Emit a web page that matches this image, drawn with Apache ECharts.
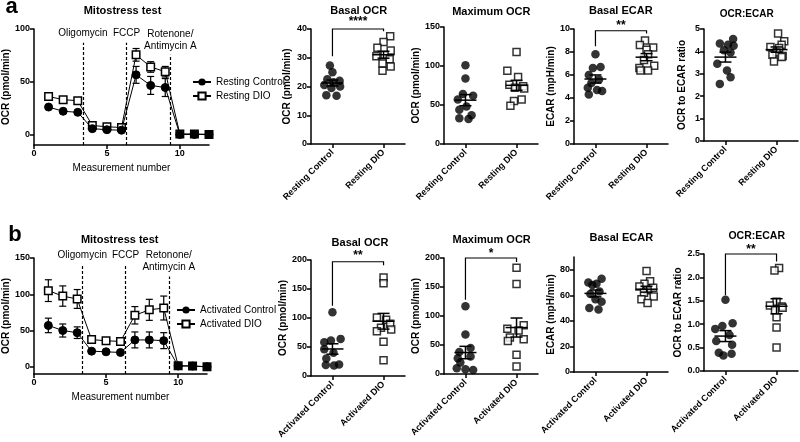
<!DOCTYPE html>
<html><head><meta charset="utf-8">
<script src="https://cdn.jsdelivr.net/npm/echarts@6/dist/echarts.min.js"></script>
<style>html,body{margin:0;padding:0;background:#fff}#c{width:800px;height:442px}</style>
</head><body><div id="c"></div>
<script>
// ---------------- DATA ----------------
const measurement = [1, 2, 3, 4, 5, 6, 7, 8, 9, 10, 11, 12];
const restingControlOCR = [26, 22, 21, 5.5, 4.5, 4, 56.5, 46.5, 44.5, 0, 0, 0];
const restingControlSEM = [1.5, 1, 1, 1, 0.8, 0.8, 8, 8.5, 8.5, 0.5, 0.5, 0.5];
const restingDIOOCR = [36, 33, 32, 8.5, 7.3, 6.6, 75.5, 64, 59.5, 0.5, 0.5, 0];
const restingDIOSEM = [2, 2, 2, 1.5, 1, 1, 6, 5, 5, 0.5, 0.5, 0.5];
const activatedControlOCR = [57, 50, 47, 21.5, 20.6, 19.7, 37, 37, 36, 1, 1, 0];
const activatedControlSEM = [10, 9, 8, 1.5, 1.5, 1.5, 11, 11, 11, 1, 1, 1];
const activatedDIOOCR = [105, 97.5, 93.5, 37.5, 35.8, 35, 71, 78.5, 81, 1.5, 1, 0];
const activatedDIOSEM = [15, 14, 13, 2, 2, 2, 12, 14.5, 16.5, 1, 1, 1];

const injectionX = [3.35, 6.35, 9.35];
const injectionLabelsA = ['Oligomycin', 'FCCP', 'Rotenone/\nAntimycin A'];
const injectionLabelsB = ['Oligomycin', 'FCCP', 'Retonone/\nAntimycin A'];
const injectionTopA = [87, 87, 75.5];
const injectionTopB = [141, 141, 124.5];

const restingGroups = ['Resting Control', 'Resting DIO'];
const activatedGroups = ['Activated Control', 'Activated DIO'];
const lineSeriesNamesA = ['Resting Control', 'Resting DIO'];
const lineSeriesNamesB = ['Activated Control', 'Activated DIO'];

// Resting scatter panels: values and horizontal jitter (in category units)
const basalOcrRestCtrl = [27.3, 25, 22.5, 22, 21.5, 20.5, 20, 19.5, 17, 16.8];
const basalOcrRestCtrlJit = [-0.05, 0, -0.1, 0.14, 0.02, -0.16, 0.15, -0.02, -0.12, 0.08];
const basalOcrRestDio = [37.5, 35.5, 33.5, 32.5, 31, 30.5, 29.5, 28, 27, 25.5];
const basalOcrRestDioJit = [0.13, 0, -0.12, 0.14, 0.02, -0.14, 0.12, -0.02, 0.14, -0.02];

const maxOcrRestCtrl = [101, 84, 64, 62, 57, 48, 44, 37, 33, 32];
const maxOcrRestCtrlJit = [0, 0, -0.05, 0.15, -0.15, 0.02, -0.12, 0.12, -0.12, 0.06];
const maxOcrRestDio = [118, 94, 86, 76, 74, 72, 71, 57, 55, 49];
const maxOcrRestDioJit = [0, -0.18, 0.03, -0.14, 0.13, -0.03, 0.15, 0.1, -0.05, -0.12];

const ecarRestCtrl = [7.8, 6.7, 6.6, 6.0, 5.6, 5.3, 4.9, 4.7, 4.6, 4.3];
const ecarRestCtrlJit = [0, 0.1, -0.05, -0.13, 0.07, -0.08, -0.15, 0.03, 0.13, -0.13];
const ecarRestDio = [9.0, 8.6, 8.4, 8.2, 7.8, 7.3, 6.8, 6.6, 6.4, 6.4];
const ecarRestDioJit = [-0.03, -0.13, 0.13, 0, 0.03, -0.05, 0.15, -0.14, 0.03, -0.12];

const ratioRestCtrl = [4.55, 4.35, 4.3, 4.25, 4.05, 3.95, 3.45, 3.15, 2.85, 2.55];
const ratioRestCtrlJit = [0.15, -0.11, 0.05, 0.16, -0.03, 0.1, -0.16, 0.03, 0.1, -0.11];
const ratioRestDio = [4.8, 4.45, 4.3, 4.2, 4.15, 3.95, 3.85, 3.8, 3.75, 3.55];
const ratioRestDioJit = [0.03, 0.15, 0.1, -0.12, 0.05, 0.0, -0.08, 0.12, 0.1, -0.05];

// Activated scatter panels
const basalOcrActCtrl = [110, 64, 61, 58, 46, 40, 30, 20, 19, 18];
const basalOcrActCtrlJit = [0, 0.16, -0.03, -0.16, -0.16, 0.02, -0.12, 0.13, -0.13, 0.03];
const basalOcrActDio = [170, 160, 101, 97, 90, 83, 80, 77, 59, 27];
const basalOcrActDioJit = [0, 0, -0.13, 0.05, 0.13, -0.05, 0.15, -0.13, 0, 0];

const maxOcrActCtrl = [117, 68, 45, 38, 30, 27, 20, 10, 8, 7];
const maxOcrActCtrlJit = [0, 0, 0.1, -0.12, 0.1, -0.15, -0.1, -0.17, 0, 0.15];
const maxOcrActDio = [183, 155, 84, 78, 75, 63, 60, 57, 33, 13];
const maxOcrActDioJit = [0, 0, 0.14, -0.18, 0.04, -0.13, 0.14, -0.17, 0, 0];

const ecarActCtrl = [73, 70, 69, 68, 63, 61, 57, 55, 50, 49];
const ecarActCtrlJit = [0.12, -0.14, 0.02, -0.06, 0.08, -0.1, 0.0, 0.12, -0.12, 0.06];
const ecarActDio = [79, 71, 69, 67, 66, 64, 62, 59, 57, 54];
const ecarActDioJit = [0, 0.07, -0.04, -0.14, 0.13, 0.02, -0.05, 0.14, -0.1, 0.02];

const ratioActCtrl = [1.52, 1.02, 0.96, 0.9, 0.77, 0.64, 0.56, 0.39, 0.37, 0.33];
const ratioActCtrlJit = [0, 0.14, -0.06, -0.2, 0.08, -0.18, 0.13, -0.13, 0.12, -0.04];
const ratioActDio = [2.2, 2.15, 1.48, 1.4, 1.38, 1.35, 1.3, 1.15, 0.93, 0.5];
const ratioActDioJit = [0.05, -0.04, 0.0, -0.13, 0.1, 0.12, -0.03, 0.0, 0.0, 0.0];

// significance: [stars, control leg end, bracket top, DIO leg end, star level]
const sigBasalOcrRest = ['****', 30.5, 40, 39.2, 42.5];
const sigEcarRest = ['**', 8.5, 9.85, 9.6, 10.3];
const sigBasalOcrAct = ['**', 121, 197, 191, 207];
const sigMaxOcrAct = ['*', 128, 200, 193, 207];
const sigRatioAct = ['**', 1.62, 2.5, 2.34, 2.6];

// tick labels
const lineTicksX = [0, 5, 10];
const lineTicksYA = [0, 50, 100];
const lineTicksYB = [0, 50, 100, 150];
const ecarActTicks = [0, 20, 40, 60, 80];

// ---------------- CHART ----------------
const FONT = '"Liberation Sans", Arial, Helvetica, sans-serif';
const grids = [
  { left: 34, top: 29, width: 175, height: 116 },   // 0 line a
  { left: 311, top: 29, width: 94, height: 115 },   // 1
  { left: 444, top: 27, width: 94, height: 117 },   // 2
  { left: 574, top: 29, width: 94, height: 115 },   // 3
  { left: 704, top: 29, width: 94, height: 112 },   // 4
  { left: 32, top: 258, width: 175, height: 116 },  // 5 line b
  { left: 311, top: 260, width: 94, height: 116 },  // 6
  { left: 444, top: 258, width: 94, height: 116 },  // 7
  { left: 574, top: 257, width: 94, height: 115 },  // 8
  { left: 704, top: 254, width: 94, height: 117 }   // 9
];
const xAxes = [], yAxes = [], series = [];

function axisStyle(extraTick, extraLabel) {
  return {
    axisLine: { onZero: false, lineStyle: { color: '#000', width: 1.5 } },
    axisTick: Object.assign({ length: 4, lineStyle: { color: '#000', width: 1.5 } }, extraTick || {}),
    axisLabel: Object.assign({ color: '#000', fontSize: 9, fontWeight: 'bold', fontFamily: FONT, margin: 4 }, extraLabel || {}),
    splitLine: { show: false }
  };
}

function mean(a) { return a.reduce((s, v) => s + v, 0) / a.length; }
function sem(a) {
  const m = mean(a);
  const sd = Math.sqrt(a.reduce((s, v) => s + (v - m) * (v - m), 0) / (a.length - 1));
  return sd / Math.sqrt(a.length);
}

function errBarRender(capHalf) {
  return function (params, api) {
    const x = api.value(0), lo = api.value(1), hi = api.value(2);
    const a = api.coord([x, lo]), b = api.coord([x, hi]);
    const st = { stroke: '#000', lineWidth: 1.2 };
    return { type: 'group', children: [
      { type: 'line', shape: { x1: a[0], y1: a[1], x2: b[0], y2: b[1] }, style: st },
      { type: 'line', shape: { x1: a[0] - capHalf, y1: a[1], x2: a[0] + capHalf, y2: a[1] }, style: st },
      { type: 'line', shape: { x1: b[0] - capHalf, y1: b[1], x2: b[0] + capHalf, y2: b[1] }, style: st }
    ] };
  };
}

function linePanel(g, yMax, yTicks, ctrl, ctrlSem, dio, dioSem, names, labels, tops) {
  const ai = xAxes.length;
  xAxes.push(Object.assign({
    type: 'value', gridIndex: g, min: 0, max: 12,
    name: 'Measurement number', nameLocation: 'middle', nameGap: 18,
    nameTextStyle: { color: '#000', fontSize: 10, fontFamily: FONT }
  }, axisStyle({ customValues: lineTicksX }, { customValues: lineTicksX })));
  yAxes.push(Object.assign({
    type: 'value', gridIndex: g, min: -10, max: yMax,
    name: 'OCR (pmol/min)', nameLocation: 'middle', nameGap: 21,
    nameTextStyle: { color: '#000', fontSize: 10, fontWeight: 'bold', fontFamily: FONT }
  }, axisStyle({ customValues: yTicks }, { customValues: yTicks })));
  [[ctrl, ctrlSem], [dio, dioSem]].forEach(([m, s]) => {
    series.push({
      type: 'custom', xAxisIndex: ai, yAxisIndex: ai, z: 2, silent: true,
      renderItem: errBarRender(3.5), encode: { x: 0, y: [1, 2] },
      data: measurement.map((x, i) => [x, m[i] - s[i], m[i] + s[i]])
    });
  });
  series.push({
    type: 'line', name: names[1], xAxisIndex: ai, yAxisIndex: ai, z: 3,
    data: measurement.map((x, i) => [x, dio[i]]),
    symbol: 'rect', symbolSize: 7.5, showAllSymbol: true,
    itemStyle: { color: '#fff', borderColor: '#000', borderWidth: 1.5 },
    lineStyle: { color: '#000', width: 1 }
  });
  series.push({
    type: 'line', name: names[0], xAxisIndex: ai, yAxisIndex: ai, z: 4,
    data: measurement.map((x, i) => [x, ctrl[i]]),
    symbol: 'circle', symbolSize: 8, showAllSymbol: true,
    itemStyle: { color: '#000', borderColor: '#000' },
    lineStyle: { color: '#000', width: 1 },
    markLine: {
      silent: true, symbol: ['none', 'none'], animation: false,
      lineStyle: { color: '#000', width: 1.2, type: [3, 2] },
      label: { show: true, position: 'end', distance: 3, formatter: '{b}', color: '#000', fontSize: 10, fontFamily: FONT, lineHeight: 12 },
      data: injectionX.map((x, i) => [{ coord: [x, -10], name: labels[i] }, { coord: [x, tops[i]] }])
    }
  });
}

function scatterPanel(g, cats, yMax, yInterval, yName, nameGap, ctrl, ctrlJit, dio, dioJit, sig, opts) {
  opts = opts || {};
  const ai = xAxes.length;
  xAxes.push(Object.assign({
    type: 'value', gridIndex: g, min: -0.42, max: 1.42
  }, axisStyle({ customValues: [0, 1] }, { customValues: [0, 1], rotate: 45, margin: 7, formatter: v => cats[Math.round(v)] })));
  const yCfg = {
    type: 'value', gridIndex: g, min: 0, max: yMax,
    name: yName, nameLocation: 'middle', nameGap: nameGap,
    nameTextStyle: { color: '#000', fontSize: 10, fontWeight: 'bold', fontFamily: FONT }
  };
  if (opts.ticks) {
    Object.assign(yCfg, axisStyle({ customValues: opts.ticks }, { customValues: opts.ticks }));
  } else {
    yCfg.interval = yInterval;
    Object.assign(yCfg, axisStyle({}, opts.fmt ? { formatter: opts.fmt } : {}));
  }
  yAxes.push(yCfg);
  series.push({
    type: 'scatter', xAxisIndex: ai, yAxisIndex: ai, z: 3, silent: true,
    symbol: 'circle', symbolSize: 8.5, itemStyle: { color: '#000' },
    data: ctrl.map((v, i) => [0 + ctrlJit[i], v])
  });
  series.push({
    type: 'scatter', xAxisIndex: ai, yAxisIndex: ai, z: 3, silent: true,
    symbol: 'rect', symbolSize: 7, itemStyle: { color: '#fff', borderColor: '#000', borderWidth: 1.5 },
    data: dio.map((v, i) => [1 + dioJit[i], v])
  });
  series.push({
    type: 'custom', xAxisIndex: ai, yAxisIndex: ai, z: 5, silent: true,
    encode: { x: 0, y: [1, 2, 3] },
    data: [[0, mean(ctrl), mean(ctrl) - sem(ctrl), mean(ctrl) + sem(ctrl)],
           [1, mean(dio), mean(dio) - sem(dio), mean(dio) + sem(dio)]],
    renderItem: function (params, api) {
      const x = api.value(0);
      const m = api.coord([x, api.value(1)]), lo = api.coord([x, api.value(2)]), hi = api.coord([x, api.value(3)]);
      const st = { stroke: '#000', lineWidth: 1.5 };
      return { type: 'group', children: [
        { type: 'line', shape: { x1: m[0] - 11, y1: m[1], x2: m[0] + 11, y2: m[1] }, style: st },
        { type: 'line', shape: { x1: lo[0], y1: lo[1], x2: hi[0], y2: hi[1] }, style: st },
        { type: 'line', shape: { x1: lo[0] - 6, y1: lo[1], x2: lo[0] + 6, y2: lo[1] }, style: st },
        { type: 'line', shape: { x1: hi[0] - 6, y1: hi[1], x2: hi[0] + 6, y2: hi[1] }, style: st }
      ] };
    }
  });
  if (sig) {
    series.push({
      type: 'custom', xAxisIndex: ai, yAxisIndex: ai, z: 6, silent: true, clip: false,
      encode: { x: 0, y: [1, 2, 3, 4] },
      data: [[0.5, sig[1], sig[2], sig[3], sig[4]]],
      renderItem: function (params, api) {
        const p1 = api.coord([0, api.value(1)]), p2 = api.coord([0, api.value(2)]);
        const p3 = api.coord([1, api.value(2)]), p4 = api.coord([1, api.value(3)]);
        const ps = api.coord([0.5, api.value(4)]);
        return { type: 'group', children: [
          { type: 'polyline', shape: { points: [p1, p2, p3, p4] }, style: { stroke: '#000', lineWidth: 1.2, fill: null } },
          { type: 'text', x: ps[0], y: ps[1], style: { text: sig[0], font: 'bold 12px ' + FONT, fill: '#000', textAlign: 'center', textVerticalAlign: 'middle' } }
        ] };
      }
    });
  }
}

linePanel(0, 100, lineTicksYA, restingControlOCR, restingControlSEM, restingDIOOCR, restingDIOSEM, lineSeriesNamesA, injectionLabelsA, injectionTopA);
scatterPanel(1, restingGroups, 40, 10, 'OCR (pmol/min)', 19, basalOcrRestCtrl, basalOcrRestCtrlJit, basalOcrRestDio, basalOcrRestDioJit, sigBasalOcrRest);
scatterPanel(2, restingGroups, 150, 50, 'OCR (pmol/min)', 22, maxOcrRestCtrl, maxOcrRestCtrlJit, maxOcrRestDio, maxOcrRestDioJit, null);
scatterPanel(3, restingGroups, 10, 2, 'ECAR (mpH/min)', 16, ecarRestCtrl, ecarRestCtrlJit, ecarRestDio, ecarRestDioJit, sigEcarRest);
scatterPanel(4, restingGroups, 5, 1, 'OCR to ECAR ratio', 17, ratioRestCtrl, ratioRestCtrlJit, ratioRestDio, ratioRestDioJit, null);
linePanel(5, 150, lineTicksYB, activatedControlOCR, activatedControlSEM, activatedDIOOCR, activatedDIOSEM, lineSeriesNamesB, injectionLabelsB, injectionTopB);
scatterPanel(6, activatedGroups, 200, 50, 'OCR (pmol/min)', 23, basalOcrActCtrl, basalOcrActCtrlJit, basalOcrActDio, basalOcrActDioJit, sigBasalOcrAct);
scatterPanel(7, activatedGroups, 200, 50, 'OCR (pmol/min)', 22, maxOcrActCtrl, maxOcrActCtrlJit, maxOcrActDio, maxOcrActDioJit, sigMaxOcrAct);
scatterPanel(8, activatedGroups, 90, 20, 'ECAR (mpH/min)', 16, ecarActCtrl, ecarActCtrlJit, ecarActDio, ecarActDioJit, null, { ticks: ecarActTicks });
scatterPanel(9, activatedGroups, 2.5, 0.5, 'OCR to ECAR ratio', 19, ratioActCtrl, ratioActCtrlJit, ratioActDio, ratioActDioJit, sigRatioAct, { fmt: v => v.toFixed(1) });

function txt(t, x, y, size, bold) {
  return { type: 'text', x: x, y: y, silent: true,
    style: { text: t, font: (bold ? 'bold ' : '') + size + 'px ' + FONT, fill: '#000', textAlign: 'center', textVerticalAlign: 'middle' } };
}

const legendCommon = {
  orient: 'vertical', itemWidth: 18, itemHeight: 9, itemGap: 4, padding: 0,
  selectedMode: false, textStyle: { color: '#000', fontSize: 10, fontFamily: FONT }
};

const option = {
  animation: false,
  backgroundColor: '#fff',
  grid: grids,
  xAxis: xAxes,
  yAxis: yAxes,
  legend: [
    Object.assign({ data: lineSeriesNamesA, left: 192, top: 77 }, legendCommon),
    Object.assign({ data: lineSeriesNamesB, left: 176, top: 305 }, legendCommon)
  ],
  series: series,
  graphic: { elements: [
    txt('a', 11.5, 6.5, 22, true),
    txt('b', 15, 234.5, 22, true),
    txt('Mitostress test', 122.5, 10.5, 11, true),
    txt('Mitostress test', 119.7, 239.5, 11, true),
    txt('Basal OCR', 358.7, 10.8, 11, true),
    txt('Maximum OCR', 491.3, 12, 11, true),
    txt('Basal ECAR', 620.8, 10.8, 11, true),
    txt('OCR:ECAR', 746.7, 14.5, 10, true),
    txt('Basal OCR', 360, 242.8, 11, true),
    txt('Maximum OCR', 491.7, 239.5, 11, true),
    txt('Basal ECAR', 621.3, 238.3, 11, true),
    txt('OCR:ECAR', 756.7, 235.8, 10.5, true)
  ] }
};

const chart = echarts.init(document.getElementById('c'));
chart.setOption(option);
</script>
</body></html>
